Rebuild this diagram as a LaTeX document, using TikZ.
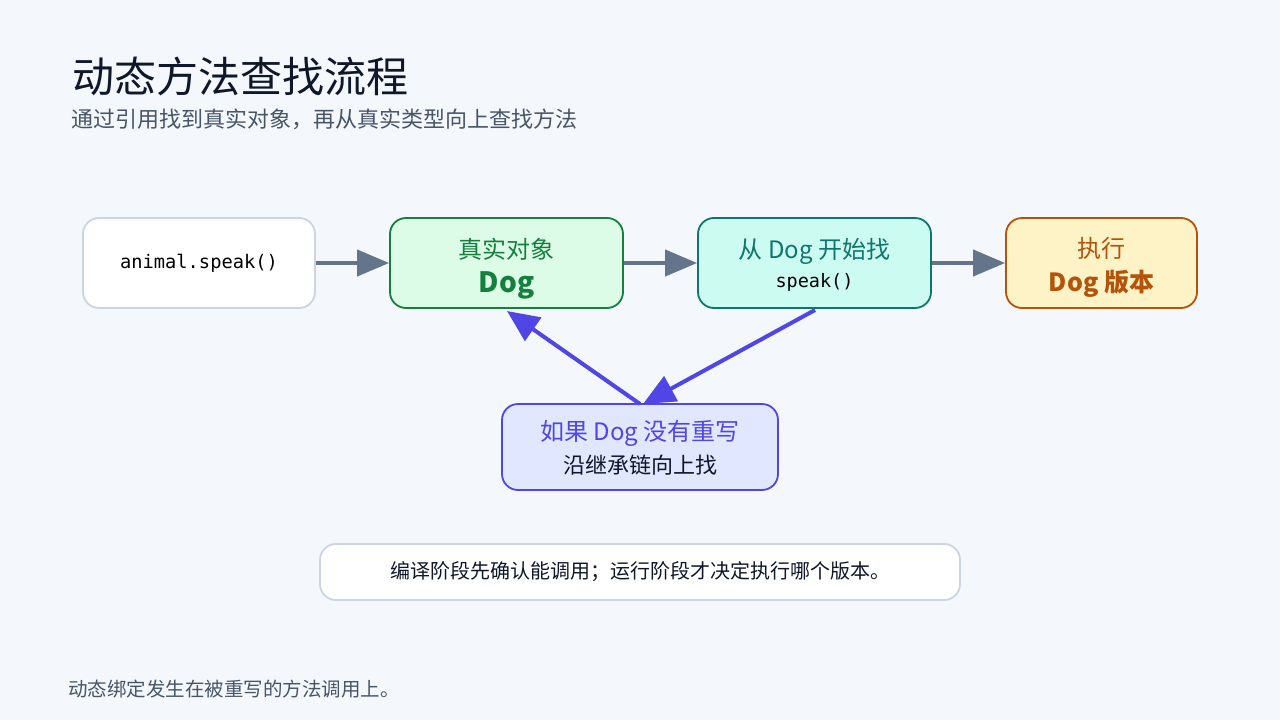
\documentclass[tikz,border=0pt]{standalone}
\usepackage{fontspec}
\setmainfont{Noto Sans CJK SC}
\newfontfamily\monof{DejaVu Sans Mono}
\usetikzlibrary{arrows.meta}
\definecolor{bg}{HTML}{F4F7FB}
\definecolor{titlec}{HTML}{0F172A}
\definecolor{subc}{HTML}{475569}
\definecolor{grayb}{HTML}{CBD5E1}
\definecolor{arrowg}{HTML}{64748B}
\definecolor{greenf}{HTML}{DCFCE7}
\definecolor{greenb}{HTML}{15803D}
\definecolor{tealf}{HTML}{CCFBF1}
\definecolor{tealb}{HTML}{0F766E}
\definecolor{ambf}{HTML}{FEF3C7}
\definecolor{ambb}{HTML}{B45309}
\definecolor{indf}{HTML}{E0E7FF}
\definecolor{indb}{HTML}{4F46E5}
\tikzset{
  box/.style={draw, rounded corners=16pt, line width=1.8pt, inner sep=0pt, align=center},
  txt/.style={anchor=base, inner sep=0pt},
  garrow/.style={draw=arrowg, line width=4pt, -{Triangle[length=32pt,width=26pt]}},
  barrow/.style={draw=indb, line width=4pt, -{Triangle[length=32pt,width=28pt]}},
}
\begin{document}
\begin{tikzpicture}[x=1pt,y=-1pt]
\fill[bg] (0,0) rectangle (1280,720);
\useasboundingbox (0,0) rectangle (1280,720);
\node[anchor=base west, text=titlec, font=\fontsize{42}{48}\selectfont, inner sep=0pt] (title) at (72,92) {动态方法查找流程};
\node[anchor=base west, text=subc, font=\fontsize{22}{26}\selectfont, inner sep=0pt] (sub) at (71,127) {通过引用找到真实对象，再从真实类型向上查找方法};

% boxes
\node[box, draw=grayb, fill=white, minimum width=232pt, minimum height=90pt] (b1) at (199,263) {\monof\fontsize{18.7}{22}\selectfont animal.speak()};
\node[box, draw=greenb, fill=greenf, minimum width=233pt, minimum height=90pt] (b2) at (506.5,263) {};
\node[box, draw=tealb, fill=tealf, minimum width=233pt, minimum height=90pt] (b3) at (814.5,263) {};
\node[box, draw=ambb, fill=ambf, minimum width=191pt, minimum height=90pt] (b4) at (1101.5,263) {};
\node[box, draw=indb, fill=indf, minimum width=276pt, minimum height=86pt] (b5) at (640,447) {};
\node[box, draw=grayb, fill=white, minimum width=640pt, minimum height=56pt, text=titlec] (b6) at (640,572) {\fontsize{20}{24}\selectfont 编译阶段先确认能调用；运行阶段才决定执行哪个版本。};

% box texts
\node[txt, text=greenb, font=\fontsize{24}{28}\selectfont] (t2a) at (506.5,258) {真实对象};
\node[txt, text=greenb, font=\fontsize{28}{32}\selectfont\bfseries] (t2b) at (506.5,292) {Dog};
\node[txt, text=tealb, font=\fontsize{24}{28}\selectfont] (t3a) at (814.5,258) {从 Dog 开始找};
\node[txt, text=black, font=\monof\fontsize{18.5}{22}\selectfont] (t3b) at (814.5,287) {speak()};
\node[txt, text=ambb, font=\fontsize{24}{28}\selectfont] (t4a) at (1101.5,257) {执行};
\node[txt, text=ambb, font=\fontsize{25}{30}\selectfont\bfseries] (t4b) at (1101.5,291) {Dog 版本};
\node[txt, text=indb, font=\fontsize{24}{28}\selectfont] (t5a) at (640,440) {如果 Dog 没有重写};
\node[txt, text=titlec, font=\fontsize{22}{26}\selectfont] (t5b) at (640,473) {沿继承链向上找};

\node[anchor=base west, text=subc, font=\fontsize{19.5}{24}\selectfont, inner sep=0pt] (foot) at (68,696) {动态绑定发生在被重写的方法调用上。};

% connectors
\draw[garrow] (b1.east) -- (b2.west);
\draw[garrow] (b2.east) -- (b3.west);
\draw[garrow] (b3.east) -- (b4.west);
\coordinate (ptop) at (640,404);
\coordinate (dogbot) at (507,311);
\coordinate (b3bot) at (815,310);
\coordinate (ptop2) at (643,404);
\draw[barrow] (ptop) -- (dogbot);
\draw[barrow] (b3bot) -- (ptop2);
\end{tikzpicture}
\end{document}
